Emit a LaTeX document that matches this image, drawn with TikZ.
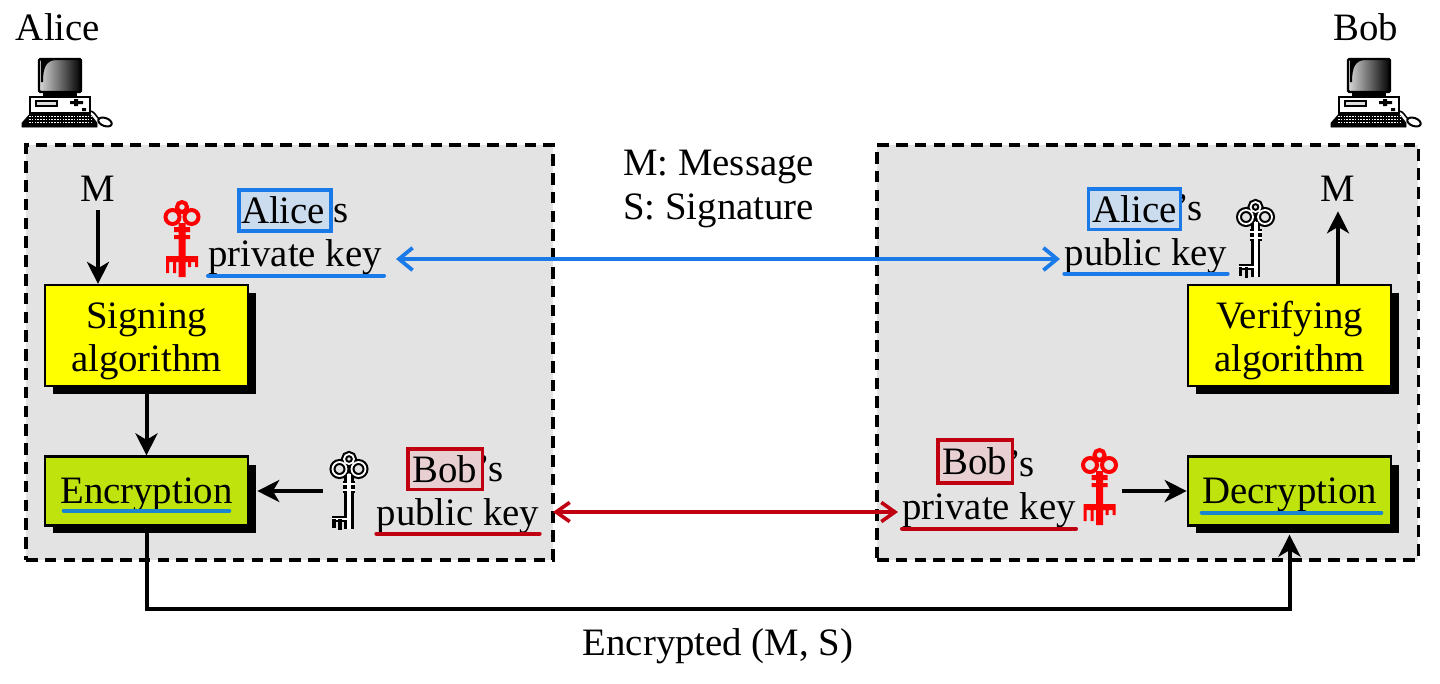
\documentclass[tikz,border=0pt]{standalone}
\usepackage{fontspec}
\setmainfont{Liberation Serif}
\usetikzlibrary{arrows.meta, shadows}
\definecolor{panelfill}{HTML}{E3E3E3}
\definecolor{signfill}{HTML}{FFFF00}
\definecolor{cryptfill}{HTML}{BFE30C}
\definecolor{aliceedge}{HTML}{1A7BE8}
\definecolor{alicefill}{HTML}{CBDCEE}
\definecolor{bobedge}{HTML}{C00010}
\definecolor{bobfill}{HTML}{E8CFD2}
\definecolor{rulecyan}{HTML}{1A86D0}
\definecolor{keyred}{HTML}{FF0000}

\tikzset{
  panel/.style={draw=black, fill=panelfill, line width=0.76mm, dash pattern=on 2.9mm off 1.8mm,
                minimum height=10.375cm},
  algo/.style={draw=black, line width=0.6mm, minimum width=5.08cm, align=center,
               font=\fontsize{27.6}{30.7}\selectfont, execute at begin node=\rule{0pt}{23.5pt},
               drop shadow={shadow xshift=0.2cm, shadow yshift=-0.2cm, fill=black, opacity=1}},
  lab/.style={inner sep=0pt, anchor=base},
  hilite/.style 2 args={draw=#1, fill=#2, line width=0.95mm, inner sep=0pt},
  keyrule/.style={draw=#1, line width=1mm, line cap=round},
  flow/.style={black, line width=1mm, -{Stealth[length=5.5mm, width=5.5mm, inset=1.6mm]}},
  bluelink/.style={aliceedge, line width=0.95mm, {Straight Barb[length=3.4mm, width=5.6mm, line width=0.95mm]}-{Straight Barb[length=3.4mm, width=5.6mm, line width=0.95mm]}},
  redlink/.style={bobedge, line width=0.9mm, {Straight Barb[length=3.4mm, width=4.8mm, line width=0.9mm]}-{Straight Barb[length=3.4mm, width=4.8mm, line width=0.9mm]}},
  keyanchor/.style={inner sep=0pt, minimum width=1.3cm, minimum height=2cm},
  pcanchor/.style={inner sep=0pt, minimum width=2.2cm, minimum height=1.8cm},
  % red key, teeth on both sides
  privkey/.pic={
    \draw[keyred, line width=1mm] (0,-31) circle (5) (-9.5,-21) circle (7) (9.5,-21) circle (7);
    \fill[keyred] (-3.5,-15) rectangle (3.5,39) (-8,-11) rectangle (8,-6) (-8,-3) rectangle (8,1)
      (-16,18) rectangle (16,24)
      (-16,18) rectangle (-13,35) (-9,18) rectangle (-6,35) (-3.5,18) rectangle (-1,35)
      (6,18) rectangle (9,29) (13,18) rectangle (16,29);
  },
  % outlined key, bit on the left
  pubkey/.pic={
    \foreach \clr/\wd/\sh/\cl in {black/1.5mm/2.4mm/1.5mm, white/0.45mm/1mm/0.55mm}{
      \draw[\clr, line width=\wd] (0,-32) circle (5) (-9.5,-22) circle (7) (9.5,-22) circle (7);
      \draw[\clr, line width=\cl] (-6,-7) -- (6,-7) (-6,-1) -- (6,-1) (-17,28) -- (0,28);
      \draw[\clr, line width=\sh] (0,-17) -- (0,38);
    }
    \draw[black, line width=0.85mm] (-15,28) -- (-15,37) (-9,28) -- (-9,39);
  },
  computer/.pic={
    \draw[black, line width=0.6mm, rounded corners=1pt, left color=gray!30, right color=black] (-21,-33) rectangle (21,0);
    \fill[black] (-19,-32) -- (-5,-32) .. controls (-13,-31) and (-17,-26) .. (-17,-10) -- (-19,-10) -- cycle;
    \fill[black] (-17,0) rectangle (17,5);
    \draw[black, line width=0.5mm, fill=white] (-30,5) rectangle (30,21);
    \draw[black, line width=0.35mm, fill=gray!25] (-24,9) rectangle (-3,14);
    \fill[black] (10,9) rectangle (23,12) (14,7) rectangle (18,14) (22,16) rectangle (26,19);
    \draw[black, line width=0.2mm, fill=black] (-29,21) -- (29,21) -- (37,31) -- (37,35) -- (-38,35) -- (-38,31) -- cycle;
    \foreach \row in {24,27,30}{
      \draw[white, line width=0.2mm, dash pattern=on 0.4mm off 0.3mm] (-31,\row) -- (32,\row);
    }
    \draw[black, line width=0.4mm] (30,19) .. controls (34,19) and (36,24) .. (39,27);
    \draw[black, line width=0.5mm, fill=white, rotate around={-20:(45,30)}] (45,30) ellipse (7 and 4);
  },
}

\begin{document}
\begin{tikzpicture}[x=0.25mm, y=-0.25mm, font=\fontsize{27.6}{30}\selectfont]
\useasboundingbox (0,0) rectangle (1440,683);
% ================= panels and party names ==================
\node[panel, minimum width=13.175cm] (alicepanel) at (289.5,352.5) {};
\node[panel, minimum width=13.525cm] (bobpanel) at (1147.5,352.5) {};
\node[lab] (alicename) at (58,40) {Alice};
\node[lab] (bobname) at (1366,40) {Bob};
\node[pcanchor] (alicepc) at (60,92) {};
\node[pcanchor] (bobpc) at (1369,92) {};
\pic at (alicepc) {computer};
\pic at (bobpc) {computer};
% ================= algorithm boxes ==================
\node[algo, fill=signfill, minimum height=2.52cm] (signing) at (146.5,335.5) {\rule{0pt}{26.5pt}Signing\\algorithm};
\node[algo, fill=signfill, minimum height=2.52cm] (verifying) at (1289.5,335.5) {\rule{0pt}{26.5pt}Verifying\\algorithm};
\node[algo, fill=cryptfill, minimum height=1.72cm] (encryption) at (146.5,491) {Encryption};
\node[algo, fill=cryptfill, minimum height=1.72cm] (decryption) at (1289.5,491) {Decryption};
\draw[keyrule=rulecyan] ([shift={(20,-16)}]encryption.south west) -- ([shift={(-20,-16)}]encryption.south east);
\draw[keyrule=rulecyan] ([shift={(15,-14)}]decryption.south west) -- ([shift={(-11,-14)}]decryption.south east);
% ================= message labels ==================
\node[lab] (malice) at (98,201) {M};
\node[lab] (mbob) at (1338,201) {M};
\node[lab, anchor=base west] (legendm) at (623,175) {M: Message};
\node[lab, anchor=base west] (legends) at (623,219) {S: Signature};
\node[lab] (busname) at (718,655) {Encrypted (M, S)};
% ================= key labels: Alice ==================
\node[lab] (alicepriv) at (295,266) {private key};
\node[lab] (alicepub) at (1146,265) {public key};
\node[lab, anchor=base west] (alicesa) at (322,222) {’s};
\node[lab, anchor=base west] (alicesb) at (1176,220) {’s};
\node[hilite={aliceedge}{alicefill}, minimum width=2.3cm, minimum height=1.02cm] (aliceboxa) at (285,210.5) {Alice\kern2.8pt};
\node[hilite={aliceedge}{alicefill}, minimum width=2.3cm, minimum height=1.02cm] (aliceboxb) at (1134.5,209) {Alice};
\draw[keyrule=aliceedge] ([yshift=-0.25mm]alicepriv.south west) -- ([xshift=0.5mm, yshift=-0.25mm]alicepriv.south east);
\draw[keyrule=aliceedge] (alicepub.south west) -- (alicepub.south east);
% ================= key labels: Bob ==================
\node[lab] (bobpub) at (458,525) {public key};
\node[lab] (bobpriv) at (989,519) {private key};
\node[lab, anchor=base west] (bobsa) at (477,481) {’s};
\node[lab, anchor=base west] (bobsb) at (1008,476) {’s};
\node[hilite={bobedge}{bobfill}, minimum width=1.87cm, minimum height=1.02cm] (bobboxa) at (445,469) {Bob};
\node[hilite={bobedge}{bobfill}, minimum width=1.87cm, minimum height=1.08cm] (bobboxb) at (975,461.5) {Bob};
\draw[keyrule=bobedge] (bobpub.south west) -- (bobpub.south east);
\draw[keyrule=bobedge] ([yshift=-0.25mm]bobpriv.south west) -- ([yshift=-0.25mm]bobpriv.south east);
% ================= keys ==================
\node[keyanchor] (alicekey) at (182,238) {};
\node[keyanchor] (alicekeyb) at (1255.5,239) {};
\node[keyanchor] (bobkey) at (349,491) {};
\node[keyanchor] (bobkeyb) at (1099.5,486) {};
\pic at (alicekey) {privkey};
\pic at (alicekeyb) {pubkey};
\pic at (bobkey) {pubkey};
\pic at (bobkeyb) {privkey};
% ================= connectors ==================
\coordinate (bluestart) at (396,259);
\coordinate (blueend) at (1060,259);
\coordinate (redstart) at (553,512);
\coordinate (redend) at (898,512);
\draw[flow, shorten <=2.3mm] (malice.south) -- (signing.north -| malice.south);
\draw[flow, shorten >=2.5mm] (verifying.north -| mbob.south) -- (mbob.south);
\draw[flow] (signing.south) -- (encryption.north);
\draw[flow, shorten >=2mm] (bobkey.west) -- (encryption.east);
\draw[flow, shorten <=-1mm] (bobkeyb.east |- decryption.west) -- (decryption.west);
\draw[flow, shorten >=2mm] (encryption.south) -- ++(0,82) -| (decryption.south);
\draw[bluelink] (bluestart) -- (blueend);
\draw[redlink] (redstart) -- (redend);
\end{tikzpicture}
\end{document}
